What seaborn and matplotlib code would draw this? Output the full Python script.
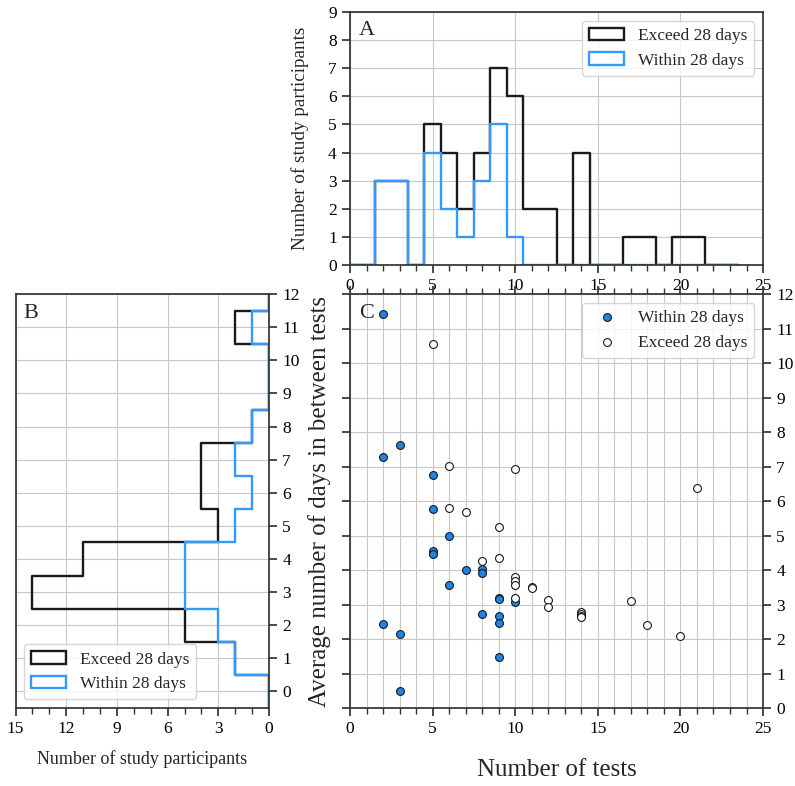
import numpy as np
import matplotlib
matplotlib.use('Agg')
import matplotlib.pyplot as plt
import seaborn as sns
from matplotlib.patches import Patch
from matplotlib.ticker import MultipleLocator

# participants who finished within 28 days
within_tests = [2, 2, 2, 3, 3, 3, 5, 5, 5, 5, 6, 6, 7, 8, 8, 8, 9, 9, 9, 9, 9, 10]
within_days = [11.43, 7.27, 2.44, 7.62, 2.15, 0.5, 6.76, 5.76, 4.54, 4.46, 5.0,
               3.56, 4.01, 4.03, 3.9, 2.72, 3.2, 3.17, 2.68, 2.46, 1.48, 3.07]

# participants who exceeded 28 days
exceed_tests = [5, 6, 6, 7, 8, 9, 9, 10, 10, 10, 10, 10, 11, 11, 12, 12,
                14, 14, 14, 14, 17, 18, 20, 21]
exceed_days = [10.55, 7.02, 5.79, 5.67, 4.27, 5.26, 4.34, 6.92, 3.79, 3.67, 3.56,
               3.2, 3.52, 3.48, 3.12, 2.93, 2.79, 2.74, 2.68, 2.64, 3.1, 2.42, 2.1, 6.38]

all_tests = within_tests + exceed_tests
all_days = within_days + exceed_days

BLACK = '#1a1a1a'
BLUE_LINE = '#3399ff'
BLUE_DOT = '#1e84e6'
GRID = '#c8c8c8'

sns.set_theme(style='ticks')
plt.rcParams['font.family'] = ['Liberation Serif', 'DejaVu Serif']
plt.rcParams['axes.edgecolor'] = '#333333'
plt.rcParams['xtick.color'] = '#333333'
plt.rcParams['ytick.color'] = '#333333'
plt.rcParams['xtick.labelcolor'] = 'black'
plt.rcParams['ytick.labelcolor'] = 'black'
plt.rcParams['xtick.labelsize'] = 12.5
plt.rcParams['ytick.labelsize'] = 12.5

fig = plt.figure(figsize=(7.95, 7.86), dpi=100)
axA = fig.add_axes([0.4403, 0.6628, 0.5195, 0.3219])
axB = fig.add_axes([0.0195, 0.0992, 0.3189, 0.5267])
axC = fig.add_axes([0.4403, 0.0992, 0.5195, 0.5267])

legend_handles = [Patch(facecolor='white', edgecolor=BLACK, linewidth=1.7, label='Exceed 28 days'),
                  Patch(facecolor='white', edgecolor=BLUE_LINE, linewidth=1.7, label='Within 28 days')]

# A: number of tests
bins_a = np.arange(-0.5, 24, 1)
sns.histplot(x=all_tests, bins=bins_a, element='step', fill=False, color=BLACK,
             linewidth=1.7, ax=axA)
sns.histplot(x=within_tests, bins=bins_a, element='step', fill=False, color=BLUE_LINE,
             linewidth=1.7, ax=axA)
axA.set_xlim(0, 25)
axA.set_ylim(0, 9)
axA.xaxis.set_major_locator(MultipleLocator(5))
axA.xaxis.set_minor_locator(MultipleLocator(1))
axA.yaxis.set_major_locator(MultipleLocator(1))
axA.grid(True, which='major', color=GRID, linewidth=0.8)
axA.set_axisbelow(True)
axA.set_ylabel('Number of study participants', fontsize=13.8, labelpad=14)
axA.text(0.022, 0.965, 'A', transform=axA.transAxes, va='top', ha='left', fontsize=16)
axA.legend(handles=legend_handles, loc='upper right', fontsize=12.5)

# B: average days between tests
bins_b = np.arange(-0.5, 13, 1)
sns.histplot(y=all_days, bins=bins_b, element='step', fill=False, color=BLACK,
             linewidth=1.7, ax=axB)
sns.histplot(y=within_days, bins=bins_b, element='step', fill=False, color=BLUE_LINE,
             linewidth=1.7, ax=axB)
axB.set_xlim(15, 0)
axB.set_ylim(-0.5, 12)
axB.xaxis.set_major_locator(MultipleLocator(3))
axB.xaxis.set_minor_locator(MultipleLocator(1))
axB.yaxis.set_major_locator(MultipleLocator(1))
axB.yaxis.tick_right()
axB.grid(True, which='major', color=GRID, linewidth=0.8)
axB.set_axisbelow(True)
axB.set_ylabel('')
axB.set_xlabel('Number of study participants', fontsize=13, labelpad=9.5)
axB.text(0.03, 0.975, 'B', transform=axB.transAxes, va='top', ha='left', fontsize=16)
axB.legend(handles=legend_handles, loc='lower left', fontsize=12.5)

# C: scatter
sns.scatterplot(x=within_tests, y=within_days, color=BLUE_DOT, edgecolor=BLACK,
                linewidth=0.8, s=32, label='Within 28 days', ax=axC, zorder=3)
sns.scatterplot(x=exceed_tests, y=exceed_days, color='white', edgecolor=BLACK,
                linewidth=0.8, s=32, label='Exceed 28 days', ax=axC, zorder=3)
axC.set_xlim(0, 25)
axC.set_ylim(0, 12)
axC.xaxis.set_major_locator(MultipleLocator(5))
axC.xaxis.set_minor_locator(MultipleLocator(1))
axC.yaxis.set_major_locator(MultipleLocator(1))
axC.tick_params(axis='y', left=True, right=True, labelleft=False, labelright=True)
axC.tick_params(axis='x', which='both', top=True, labeltop=False)
axC.grid(True, which='both', color=GRID, linewidth=0.8)
axC.set_axisbelow(True)
axC.set_xlabel('Number of tests', fontsize=18, labelpad=16)
axC.set_ylabel('Average number of days in between tests', fontsize=18, labelpad=8)
axC.text(0.022, 0.975, 'C', transform=axC.transAxes, va='top', ha='left', fontsize=16)
axC.legend(loc='upper right', fontsize=12.5)

fig.savefig('out.png', dpi=100)
